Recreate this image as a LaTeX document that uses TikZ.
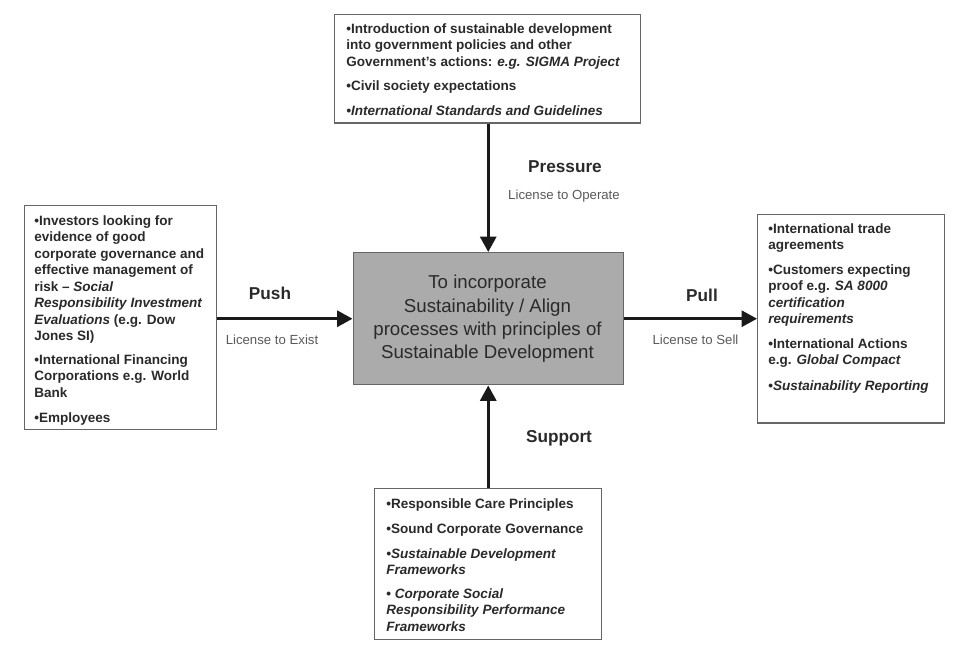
\documentclass[tikz,border=0pt]{standalone}
\usepackage{fontspec}
\setmainfont{Liberation Sans}
\usetikzlibrary{arrows.meta}
\definecolor{ink}{HTML}{2A2A2A}
\definecolor{edge}{HTML}{666666}
\tikzset{
 tbox/.style={draw=edge,line width=1.1pt,fill=white,inner sep=0pt,anchor=north west},
 txt/.style={anchor=north west,inner sep=0pt,text=ink,font=\fontsize{10.15pt}{12.4pt}\selectfont\bfseries,align=left},
 head/.style={inner sep=0pt,text=ink,font=\fontsize{12.9pt}{15pt}\selectfont\bfseries},
 lic/.style={inner sep=0pt,text=black!65,font=\fontsize{9.9pt}{12pt}\selectfont},
 conn/.style={draw=black!90,line width=2.1pt,-{Triangle[length=11.5pt,width=12pt]}},
}
\begin{document}
\begin{tikzpicture}[x=0.75pt,y=-0.75pt]
\useasboundingbox (0,0) rectangle (960,650);
\node[tbox,minimum width=229.5pt,minimum height=81.5pt] (top) at (334,13.5) {};
\node[tbox,minimum width=144pt,minimum height=168pt] (left) at (23.5,205) {};
\node[tbox,minimum width=140.25pt,minimum height=156.5pt] (right) at (757,213.5) {};
\node[tbox,minimum width=170pt,minimum height=113pt] (bot) at (374,488) {};
\node[tbox,fill=black!33,minimum width=202.5pt,minimum height=99pt] (mid) at (352.5,252) {};
\node[inner sep=0pt,align=center,text=ink,font=\fontsize{14pt}{17.5pt}\selectfont] (midt) at (487.5,319) {To incorporate\\Sustainability / Align\\processes with principles of\\Sustainable Development};
\node[txt] (t1) at (346,23) {•Introduction of sustainable development\\into government policies and other\\Government’s actions: \textit{e.g. SIGMA Project}};
\node[txt] (t2) at (346,80) {•Civil society expectations};
\node[txt] (t3) at (346,105) {\textit{•International Standards and Guidelines}};
\node[txt] (l1) at (34,215) {•Investors looking for\\evidence of good\\corporate governance and\\effective management of\\risk – \textit{Social}\\\textit{Responsibility Investment}\\\textit{Evaluations} (e.g. Dow\\Jones SI)};
\node[txt] (l2) at (34,354) {•International Financing\\Corporations e.g. World\\Bank};
\node[txt] (l3) at (34,412) {•Employees};
\node[txt] (r1) at (768,223) {•International trade\\agreements};
\node[txt] (r2) at (768,264) {•Customers expecting\\proof e.g. \textit{SA 8000}\\\textit{certification}\\\textit{requirements}};
\node[txt] (r3) at (768,338) {•International Actions\\e.g. \textit{Global Compact}};
\node[txt] (r4) at (768,380) {•\textit{Sustainability Reporting}};
\node[txt] (b1) at (386,498) {•Responsible Care Principles};
\node[txt] (b2) at (386,523) {•Sound Corporate Governance};
\node[txt] (b3) at (386,548) {\textit{•Sustainable Development}\\\textit{Frameworks}};
\node[txt] (b4) at (386,588) {• \textit{Corporate Social}\\\textit{Responsibility Performance}\\\textit{Frameworks}};
\node[head] (pressure) at (565,167) {Pressure};
\node[lic] (op) at (564,196) {License to Operate};
\node[head] (push) at (270,293) {Push};
\node[lic] (ex) at (272,340) {License to Exist};
\node[head] (pull) at (702,295) {Pull};
\node[lic] (sell) at (695.5,340) {License to Sell};
\node[head] (support) at (559,438) {Support};
\draw[conn] (top.south -| mid.north) -- (mid.north);
\draw[conn] (bot.north -| mid.south) -- (mid.south);
\draw[conn] (left.east |- mid.west) -- (mid.west);
\draw[conn] (mid.east) -- (right.west |- mid.east);
\end{tikzpicture}
\end{document}
